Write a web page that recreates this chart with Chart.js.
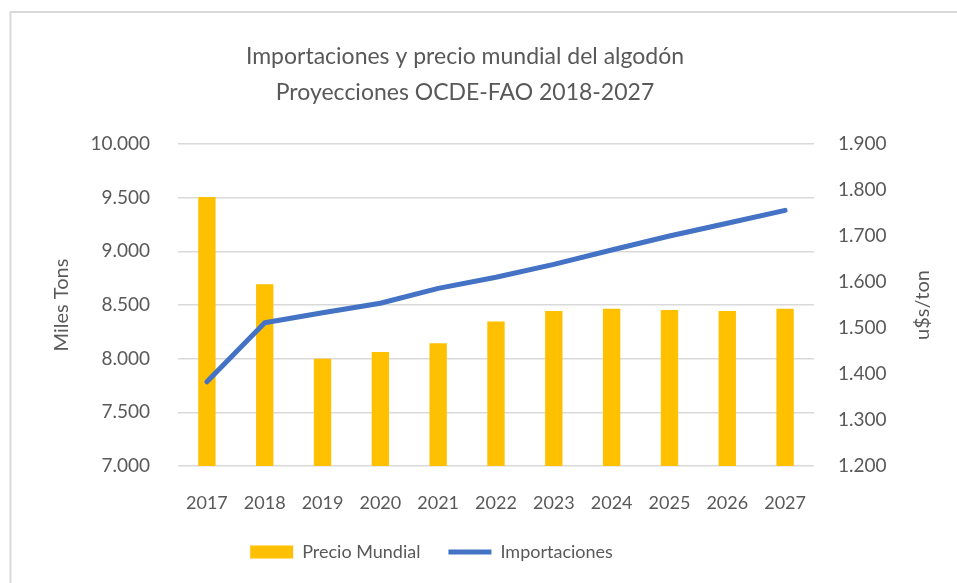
<!DOCTYPE html>
<html>
<head>
<meta charset="utf-8">
<script src="https://cdn.jsdelivr.net/npm/chart.js@4/dist/chart.umd.min.js"></script>
<style>
  html, body { margin: 0; padding: 0; background: #fff; }
  #wrap { width: 957px; height: 583px; }
</style>
</head>
<body>
<div id="wrap"><canvas id="myChart"></canvas></div>
<script>
let years = ['2017', '2018', '2019', '2020', '2021', '2022', '2023', '2024', '2025', '2026', '2027']
let precioMundial = [1785, 1595, 1433, 1448, 1467, 1514, 1537, 1542, 1539, 1537, 1542]
let importaciones = [7785, 8335, 8428, 8516, 8655, 8758, 8879, 9012, 9143, 9262, 9382]
let titleLines = ['Importaciones y precio mundial del algodón', 'Proyecciones OCDE-FAO 2018-2027']
let leftTitle = 'Miles Tons'
let rightTitle = 'u$s/ton'

let grey = '#595959'
let fontName = 'Lato, "Open Sans", sans-serif'

// thousands with a dot, like the original
function fmt(v) {
    let s = String(Math.round(v))
    return s.replace(/\B(?=(\d{3})+(?!\d))/g, '.')
}

let textPlugin = {
    id: 'textPlugin',
    afterLayout(chart) {
        // legend sits left of centre in the original
        chart.legend.left -= 47
        chart.legend.right -= 47
    },
    beforeDraw(chart) {
        let ctx = chart.ctx
        ctx.save()
        // chart area frame (only top and left show)
        ctx.strokeStyle = '#d9d9d9'
        ctx.lineWidth = 2
        ctx.beginPath()
        ctx.moveTo(10.5, 583)
        ctx.lineTo(10.5, 12)
        ctx.lineTo(957, 12)
        ctx.stroke()
        ctx.restore()
    },
    afterDraw(chart) {
        let ctx = chart.ctx
        ctx.save()
        ctx.fillStyle = grey
        ctx.textAlign = 'center'
        ctx.textBaseline = 'middle'
        ctx.font = '23px ' + fontName
        ctx.fillText(titleLines[0], 465, 57)
        ctx.fillText(titleLines[1], 465, 93)

        ctx.font = '20px ' + fontName
        ctx.translate(62, 305)
        ctx.rotate(-Math.PI / 2)
        ctx.fillText(leftTitle, 0, 0)
        ctx.restore()

        ctx.save()
        ctx.fillStyle = grey
        ctx.textAlign = 'center'
        ctx.textBaseline = 'middle'
        ctx.font = '20px ' + fontName
        ctx.translate(923, 305)
        ctx.rotate(-Math.PI / 2)
        ctx.fillText(rightTitle, 0, 0)
        ctx.restore()
    }
}

let baseLabels = Chart.defaults.plugins.legend.labels.generateLabels

new Chart(document.getElementById('myChart'), {
    data: {
        labels: years,
        datasets: [{
            type: 'line',
            label: 'Importaciones',
            data: importaciones,
            yAxisID: 'y',
            borderColor: '#4472C4',
            backgroundColor: '#4472C4',
            borderWidth: 5,
            borderCapStyle: 'round',
            borderJoinStyle: 'round',
            pointRadius: 0,
            tension: 0,
            order: 0
        }, {
            type: 'bar',
            label: 'Precio Mundial',
            data: precioMundial,
            yAxisID: 'y1',
            backgroundColor: '#FFC000',
            borderWidth: 0,
            barPercentage: 0.6,
            categoryPercentage: 0.5,
            order: 1
        }]
    },
    options: {
        responsive: true,
        maintainAspectRatio: false,
        animation: false,
        layout: { padding: { top: 144, left: 0, right: 0, bottom: 12 } },
        plugins: {
            title: { display: false },
            tooltip: { enabled: false },
            legend: {
                position: 'bottom',
                reverse: true,
                labels: {
                    color: grey,
                    font: { family: fontName, size: 18 },
                    usePointStyle: true,
                    pointStyleWidth: 43,
                    boxHeight: 13,
                    padding: 28,
                    generateLabels(chart) {
                        let items = baseLabels(chart)
                        items.forEach(function(it) {
                            let ds = chart.data.datasets[it.datasetIndex]
                            it.pointStyle = ds.type == 'line' ? 'line' : 'rect'
                            if (ds.type == 'bar') it.lineWidth = 0
                        })
                        return items
                    }
                }
            }
        },
        scales: {
            x: {
                grid: { display: false },
                border: { display: false },
                ticks: { color: grey, font: { family: fontName, size: 18 }, padding: 18, maxRotation: 0 },
                afterFit(s) { s.height = 49 }
            },
            y: {
                position: 'left',
                min: 7000,
                max: 10000,
                grid: { color: '#d9d9d9', lineWidth: 1.5, drawTicks: false },
                border: { display: false },
                ticks: {
                    stepSize: 500,
                    color: grey,
                    font: { family: fontName, size: 19 },
                    padding: 28,
                    callback: function(v) { return fmt(v) }
                },
                afterFit(s) { s.width = 178 }
            },
            y1: {
                position: 'right',
                min: 1200,
                max: 1900,
                grid: { display: false, drawTicks: false },
                border: { display: false },
                ticks: {
                    stepSize: 100,
                    color: grey,
                    font: { family: fontName, size: 19 },
                    padding: 24,
                    callback: function(v) { return fmt(v) }
                },
                afterFit(s) { s.width = 143 }
            }
        }
    },
    plugins: [textPlugin]
})
</script>
</body>
</html>
